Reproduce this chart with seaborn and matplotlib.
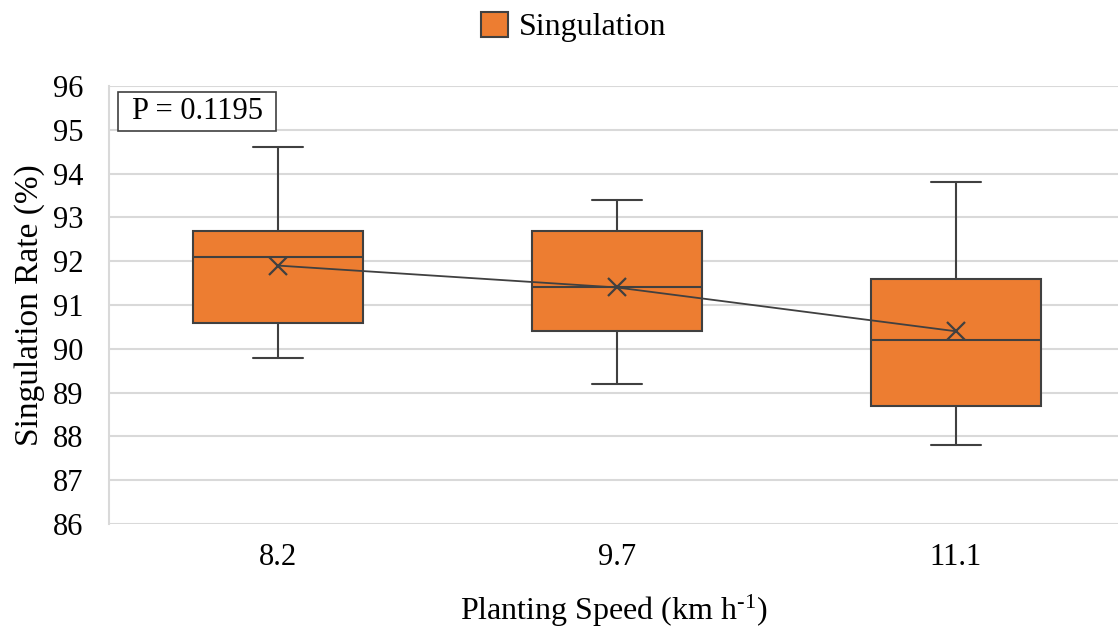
import numpy as np
import pandas as pd
import matplotlib
matplotlib.use("Agg")
import matplotlib.pyplot as plt
from matplotlib.patches import Patch, Rectangle
import seaborn as sns

# box statistics
speeds = ["8.2", "9.7", "11.1"]
whisker_low = [89.8, 89.2, 87.8]
q1 = [90.6, 90.4, 88.7]
median = [92.1, 91.4, 90.2]
q3 = [92.7, 92.7, 91.6]
whisker_high = [94.6, 93.4, 93.8]
means = [91.9, 91.4, 90.4]
p_value = "P = 0.1195"

ORANGE = "#ED7D31"
EDGE = "#404040"
GRID = "#D9D9D9"

sns.set_theme(style="white")
plt.rcParams["font.family"] = ["Liberation Serif", "DejaVu Serif"]
plt.rcParams["mathtext.fontset"] = "custom"
plt.rcParams["mathtext.rm"] = "Liberation Serif"
plt.rcParams["mathtext.it"] = "Liberation Serif"
plt.rcParams["text.color"] = "black"
plt.rcParams["axes.labelcolor"] = "black"

fig = plt.figure(figsize=(11.18, 6.32), dpi=100)
ax = fig.add_axes([108.5 / 1118, 1 - 524 / 632, 1 - 108.5 / 1118, (524 - 86) / 632])

stats = []
for i, s in enumerate(speeds):
    stats.append({"label": s, "whislo": whisker_low[i], "q1": q1[i], "med": median[i],
                  "q3": q3[i], "whishi": whisker_high[i], "mean": means[i], "fliers": []})

pos = np.arange(len(speeds))
ax.bxp(stats, positions=pos, widths=0.5, patch_artist=True, showmeans=False,
       showfliers=False, capwidths=0.15,
       boxprops=dict(facecolor=ORANGE, edgecolor=EDGE, linewidth=1.5),
       medianprops=dict(color=EDGE, linewidth=1.5),
       whiskerprops=dict(color=EDGE, linewidth=1.5),
       capprops=dict(color=EDGE, linewidth=1.5), zorder=3)

df = pd.DataFrame({"pos": pos, "mean": means})
sns.lineplot(data=df, x="pos", y="mean", ax=ax, color=EDGE, linewidth=1.3,
             marker="x", markersize=13, markeredgewidth=1.6, markeredgecolor=EDGE,
             zorder=4)

ax.set_ylim(86, 96)
ax.set_yticks(range(86, 97))
ax.set_xlim(-0.5, 2.478)
ax.set_xticks(pos)
ax.set_xticklabels(speeds)
ax.yaxis.grid(True, color=GRID, linewidth=1.5, zorder=0)
ax.set_axisbelow(True)
for side in ["top", "right", "bottom"]:
    ax.spines[side].set_visible(False)
ax.spines["left"].set_color(GRID)
ax.spines["left"].set_linewidth(1.5)
ax.tick_params(axis="both", length=0, labelsize=22, colors="black")
ax.tick_params(axis="x", pad=14)
ax.tick_params(axis="y", pad=18)

ax.set_xlabel(r"Planting Speed (km h$^{\text{-1}}$)", fontsize=23, labelpad=15)
ax.set_ylabel("Singulation Rate (%)", fontsize=24, labelpad=6)

# P-value box
ax.add_patch(Rectangle((0.0094, 0.897), 0.1565, 0.089, transform=ax.transAxes,
                       facecolor="white", edgecolor=EDGE, linewidth=1.2, zorder=5))
ax.text(0.0877, 0.941, p_value, transform=ax.transAxes, fontsize=22,
        ha="center", va="center", zorder=6)

handle = Patch(facecolor=ORANGE, edgecolor=EDGE, linewidth=1.5, label="Singulation")
fig.legend(handles=[handle], loc="center", bbox_to_anchor=(0.513, 1 - 27 / 632),
           frameon=False, fontsize=23, handlelength=0.85, handleheight=0.85,
           handletextpad=0.35)

fig.savefig("out.png", dpi=100)
